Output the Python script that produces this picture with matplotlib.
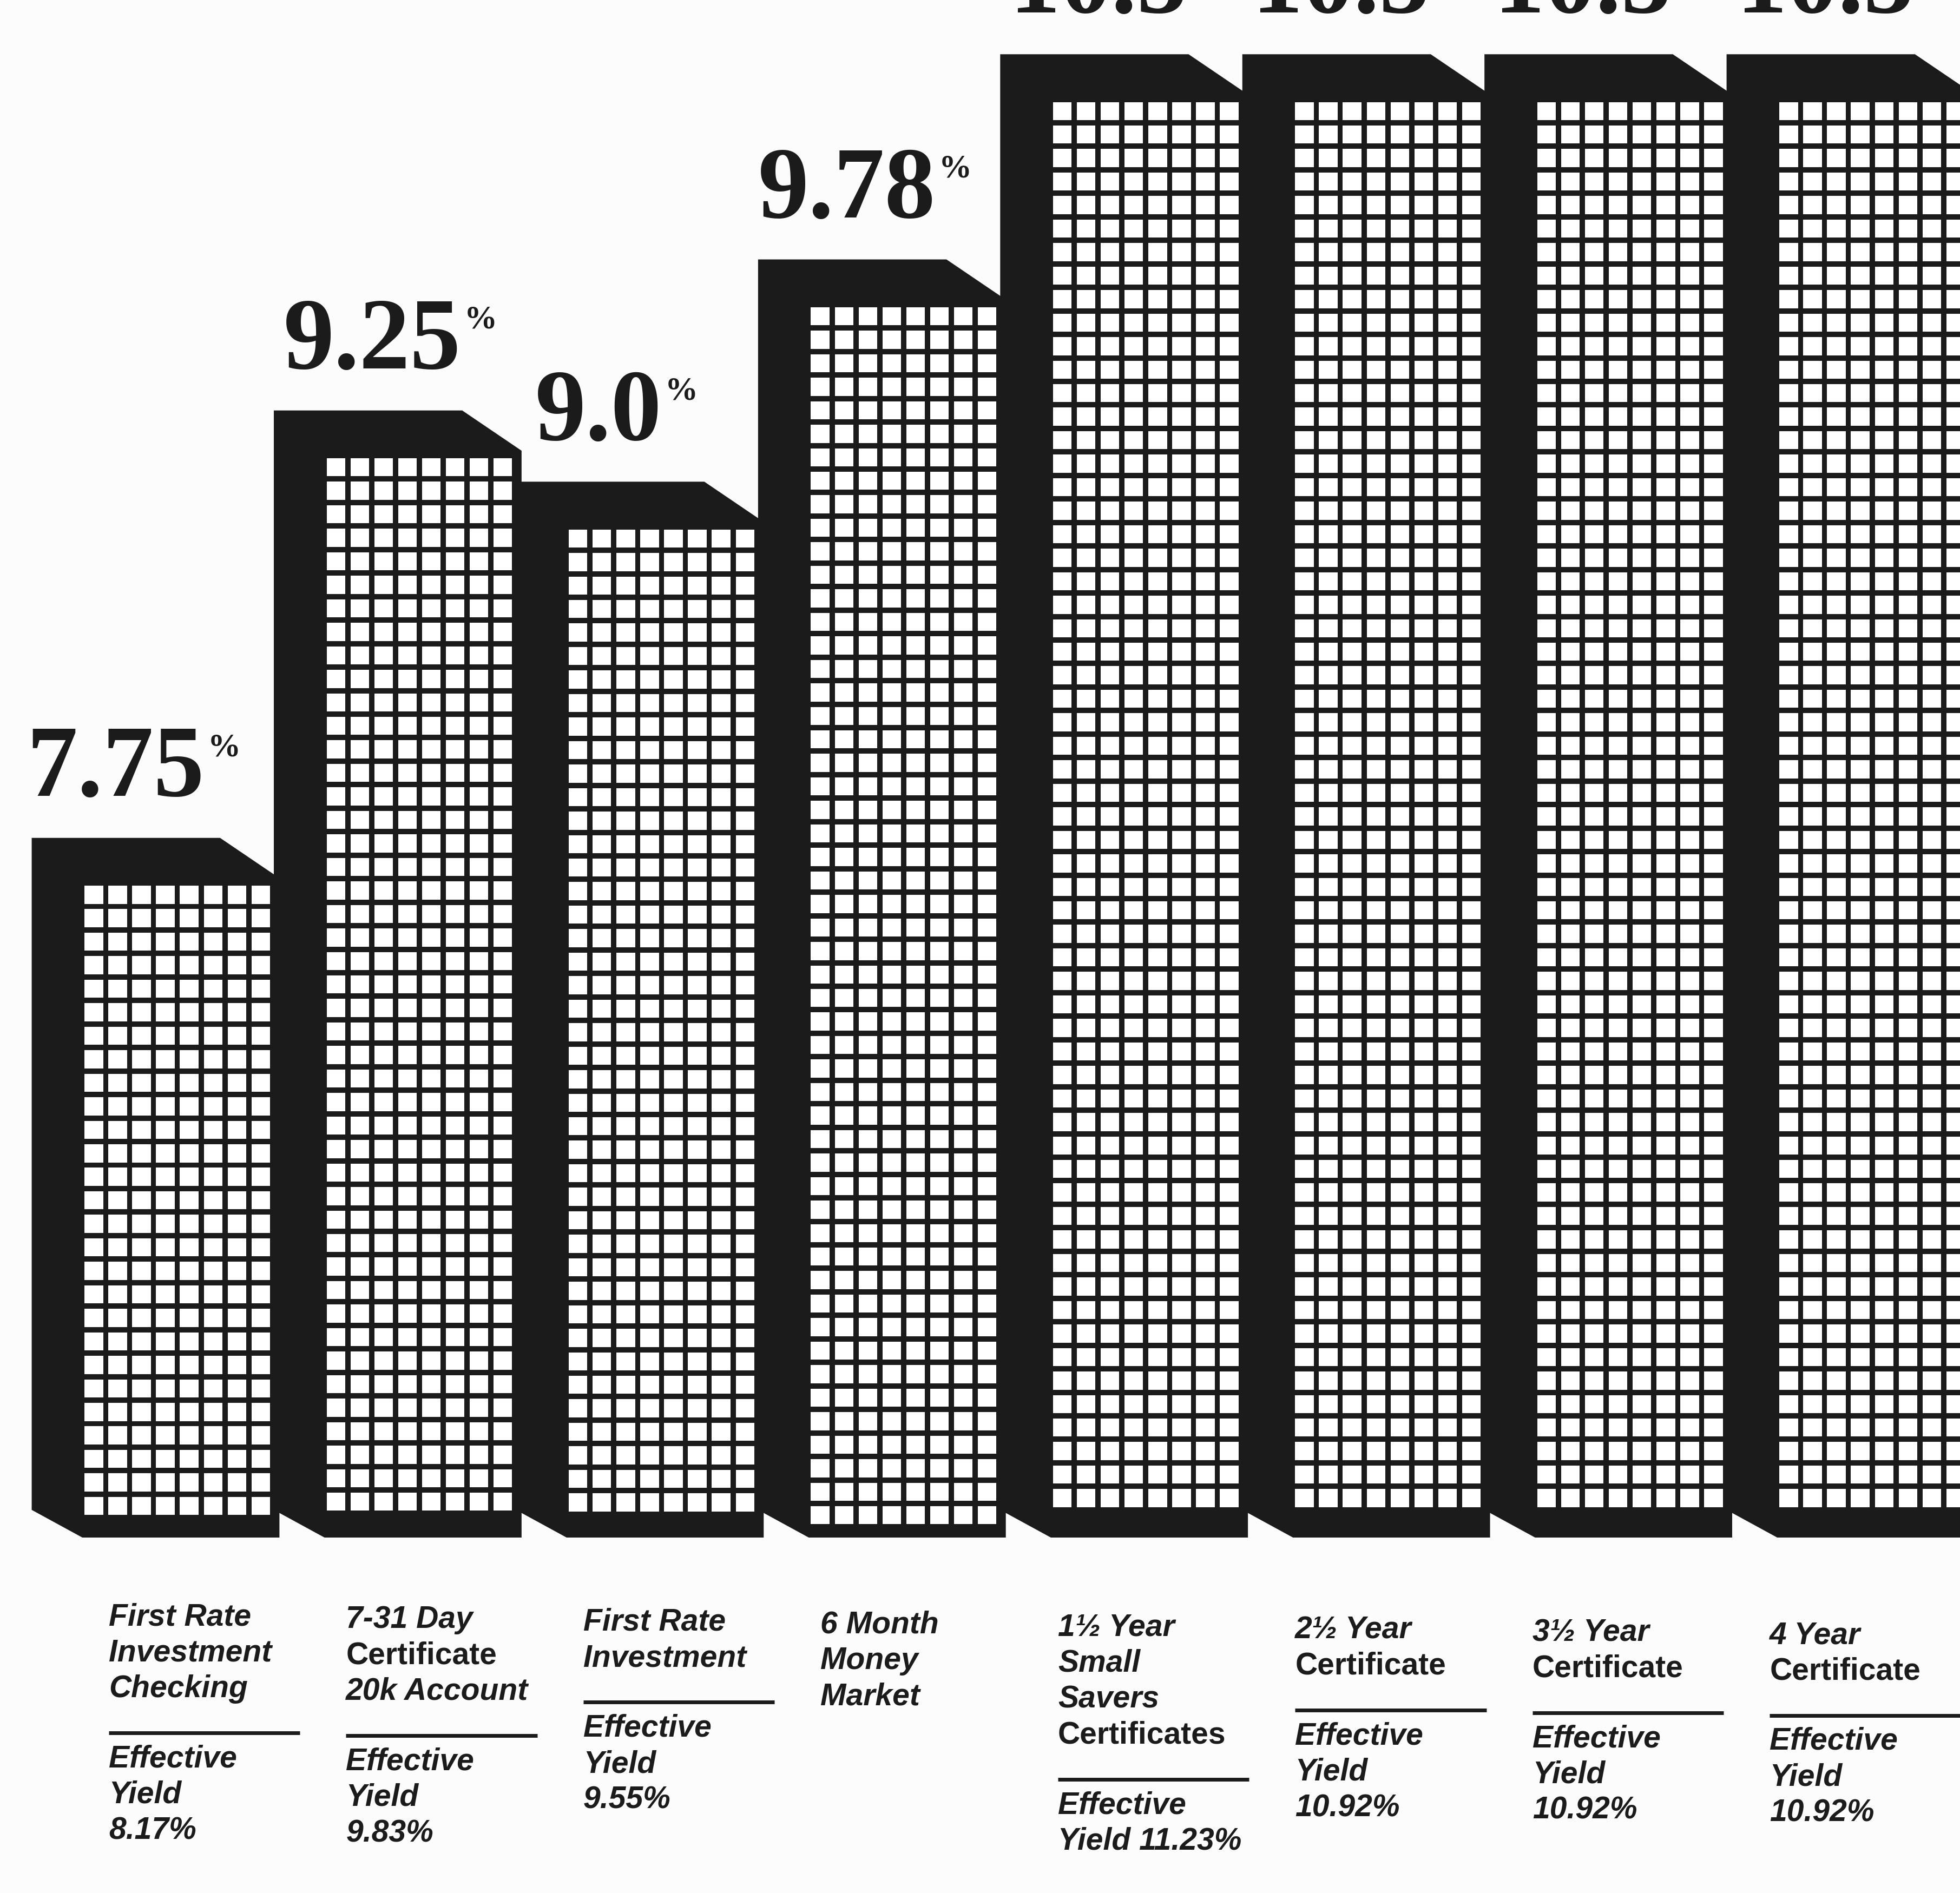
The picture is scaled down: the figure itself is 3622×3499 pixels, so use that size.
import matplotlib.pyplot as plt
from matplotlib.collections import PatchCollection
from matplotlib.patches import Polygon, Rectangle

# ---- data -------------------------------------------------------------
rates = [7.75, 9.25, 9.0, 9.78, 10.5, 10.5, 10.5, 10.5]
rate_text = ["7.75", "9.25", "9.0", "9.78", "10.5", "10.5", "10.5", "10.5"]
account_names = [
    ["First Rate", "Investment", "Checking"],
    ["7-31 Day", "Certificate", "20k Account"],
    ["First Rate", "Investment"],
    ["6 Month", "Money", "Market"],
    ["1½ Year", "Small", "Savers", "Certificates"],
    ["2½ Year", "Certificate"],
    ["3½ Year", "Certificate"],
    ["4 Year", "Certificate"],
]
yield_lines = [
    ["Effective", "Yield", "8.17%"],
    ["Effective", "Yield", "9.83%"],
    ["Effective", "Yield", "9.55%"],
    [],
    ["Effective", "Yield 11.23%"],
    ["Effective", "Yield", "10.92%"],
    ["Effective", "Yield", "10.92%"],
    ["Effective", "Yield", "10.92%"],
]

# ---- style / geometry --------------------------------------------------
INK = "#1b1b1b"
PAPER = "#fcfcfc"
BASE = 5.44           # value where the bars stand (axis does not start at 0)
FRONT_W = 0.81        # front face width, in bar slots
DX_L, DX_R = 0.207, 0.243   # depth offsets of the back edges (x)
DY_T, DY_B = 0.14, 0.096    # depth offsets of the back edges (y)
N_COLS = 8
PITCH_X = 0.0985
ROW_H = 0.0825
LS = 0.126            # line spacing of the captions
# hand-placed look of the original: small x nudges of the rate labels
LABEL_NUDGE = [-0.06, 0.0, 0.04, -0.04, 0.0, 0.0, 0.0, 0.0]

LABEL_FONT = ["Liberation Sans", "DejaVu Sans"]
NUM_FONT = ["Liberation Serif", "DejaVu Serif"]

fig = plt.figure(figsize=(36.22, 34.99), dpi=100, facecolor=PAPER)
ax = fig.add_axes([0, 0, 1, 1])
ax.set_xlim(-0.341, 7.754)
ax.set_ylim(4.19, 10.833)
ax.axis("off")

cells = []
for i, r in enumerate(rates):
    x0, x1 = i, i + FRONT_W
    body = Polygon(
        [(x0 - DX_L, r + DY_T), (x1 - DX_R, r + DY_T), (x1, r),
         (x1, BASE), (x0, BASE), (x0 - DX_L, BASE + DY_B)],
        closed=True, fc=INK, ec=INK, lw=2, zorder=1)
    ax.add_patch(body)

    # white window grid on the front face, filled from the top down
    cw, ch = 0.78 * PITCH_X, 0.77 * ROW_H
    y = r - 0.025 - ch
    while y >= BASE + 0.035:
        for c in range(N_COLS):
            cells.append(Rectangle((x0 + 0.008 + c * PITCH_X, y), cw, ch))
        y -= ROW_H

ax.add_collection(PatchCollection(cells, fc="white", ec="none", zorder=2))

# rate labels above the bars
for i, (r, txt) in enumerate(zip(rates, rate_text)):
    t = ax.text(i - 0.17 + LABEL_NUDGE[i], r + DY_T + 0.15, txt, fontsize=135,
                family=NUM_FONT, weight="bold", color=INK,
                ha="left", va="baseline", zorder=3)
    ax.annotate("%", xy=(1, 1), xycoords=t, xytext=(4, -10),
                textcoords="offset points", fontsize=44,
                family=NUM_FONT, weight="bold", color=INK,
                ha="left", va="top", zorder=3)

# captions below the bars
for i, (names, ylines) in enumerate(zip(account_names, yield_lines)):
    lx = 0.108 + 0.980 * i
    ly = 5.158 - 0.0092 * i
    for name in names:
        style = "normal" if name.startswith("Certificate") else "italic"
        ax.text(lx, ly, name, fontsize=41, family=LABEL_FONT, weight="bold",
                style=style, color=INK, ha="left", va="center")
        ly -= LS
    if not ylines:
        continue
    ly += LS - 0.154
    ax.plot([lx, lx + 0.79], [ly, ly], color=INK, lw=5, solid_capstyle="butt")
    ly -= 0.092
    for line in ylines:
        ax.text(lx, ly, line, fontsize=41, family=LABEL_FONT, weight="bold",
                style="italic", color=INK, ha="left", va="center")
        ly -= LS

fig.savefig("out.png", dpi=100, facecolor=PAPER)
